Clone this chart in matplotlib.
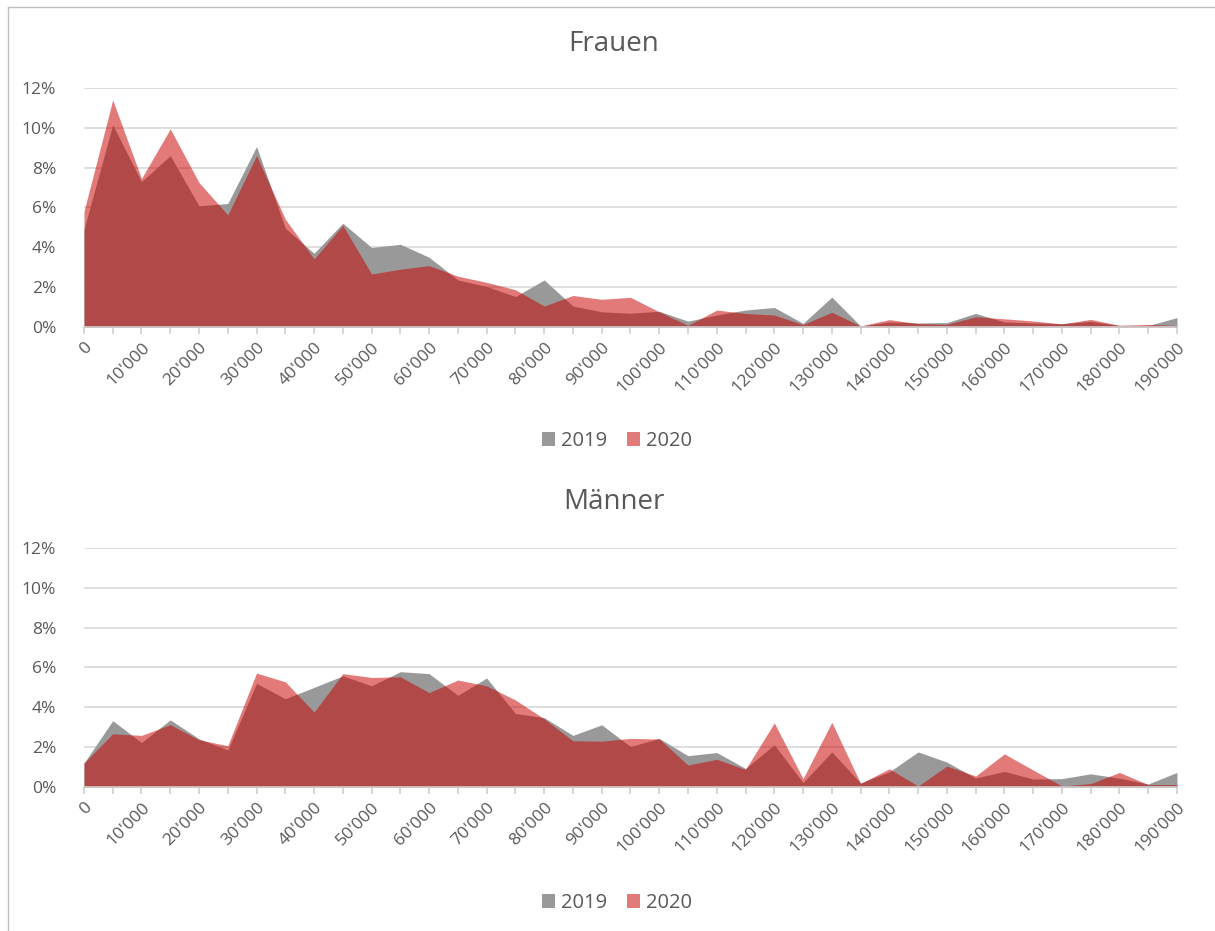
import matplotlib.pyplot as plt
import matplotlib.ticker as ticker
from matplotlib.patches import Patch

# Einkommensklassen (CHF), Schritt 5'000
einkommen = list(range(0, 195000, 5000))

# Anteile in % - Frauen
frauen_2019 = [4.9, 10.15, 7.3, 8.6, 6.08, 6.2, 9.06, 4.96, 3.7, 5.21,
               3.99, 4.15, 3.5, 2.36, 2.03, 1.53, 2.36, 1.05, 0.76, 0.69,
               0.79, 0.29, 0.6, 0.85, 0.98, 0.18, 1.5, 0.05, 0.25, 0.2,
               0.22, 0.68, 0.25, 0.2, 0.17, 0.28, 0.08, 0.07, 0.47]
frauen_2020 = [5.8, 11.4, 7.45, 9.95, 7.25, 5.63, 8.6, 5.41, 3.42, 5.1,
               2.66, 2.9, 3.08, 2.55, 2.24, 1.87, 1.05, 1.58, 1.39, 1.49,
               0.76, 0.08, 0.85, 0.68, 0.6, 0.12, 0.74, 0.05, 0.37, 0.17,
               0.13, 0.51, 0.41, 0.3, 0.15, 0.38, 0.08, 0.13, 0.07]

# Anteile in % - Männer
maenner_2019 = [1.2, 3.33, 2.23, 3.37, 2.42, 1.86, 5.2, 4.43, 5.0, 5.58,
                5.08, 5.79, 5.69, 4.6, 5.47, 3.69, 3.48, 2.59, 3.12, 2.03,
                2.44, 1.57, 1.73, 0.93, 2.12, 0.22, 1.76, 0.2, 0.76, 1.76,
                1.25, 0.45, 0.78, 0.4, 0.42, 0.66, 0.44, 0.15, 0.73]
maenner_2020 = [1.2, 2.67, 2.59, 3.13, 2.37, 2.07, 5.72, 5.28, 3.76, 5.69,
                5.5, 5.53, 4.74, 5.37, 5.08, 4.37, 3.42, 2.32, 2.3, 2.44,
                2.41, 1.1, 1.39, 0.88, 3.22, 0.42, 3.25, 0.18, 0.91, 0.05,
                1.05, 0.55, 1.66, 0.85, 0.05, 0.17, 0.73, 0.12, 0.12]

grau = '#999999'
rot = '#c80000'
rot_alpha = 0.52
text_col = '#595959'

plt.rcParams['font.family'] = ['Open Sans', 'DejaVu Sans']

fig = plt.figure(figsize=(12.15, 9.31), dpi=100)

panels = [
    ('Frauen', frauen_2019, frauen_2020, [0.0691, 0.6488, 0.8996, 0.2567], 0.953, 0.526),
    ('Männer', maenner_2019, maenner_2020, [0.0691, 0.1547, 0.8996, 0.2567], 0.461, 0.030),
]

for titel, s19, s20, pos, title_y, leg_y in panels:
    ax = fig.add_axes(pos)
    ax.fill_between(einkommen, 0, s19, color=grau, linewidth=0, zorder=2)
    ax.fill_between(einkommen, 0, s20, color=rot, alpha=rot_alpha, linewidth=0, zorder=3)

    ax.set_xlim(0, 190000)
    ax.set_ylim(0, 12)
    ax.set_yticks(range(0, 13, 2))
    ax.yaxis.set_major_formatter(ticker.FuncFormatter(lambda v, _: f'{v:.0f}%'))
    ax.set_xticks(einkommen, minor=True)
    ax.set_xticks(einkommen[::2])
    ax.xaxis.set_major_formatter(ticker.FuncFormatter(
        lambda v, _: f'{int(v):,}'.replace(',', "'")))
    for lab in ax.get_xticklabels():
        lab.set_rotation(45)
        lab.set_ha('right')
        lab.set_rotation_mode('anchor')

    ax.grid(axis='y', color='#d9d9d9', linewidth=1.2, zorder=0)
    ax.set_axisbelow(True)
    for side in ['top', 'right', 'left']:
        ax.spines[side].set_visible(False)
    ax.spines['bottom'].set_color('#d0d0d0')
    ax.spines['bottom'].set_linewidth(1.2)
    ax.spines['bottom'].set_zorder(4)
    ax.tick_params(axis='y', length=0, labelsize=12.5, labelcolor=text_col, pad=20)
    ax.tick_params(axis='x', which='both', length=5, color='#d0d0d0', width=1.2,
                   labelsize=12.5, labelcolor=text_col, pad=4)

    fig.text(0.505, title_y, titel, ha='center', va='center', fontsize=20, color=text_col)

    handles = [Patch(facecolor=grau, label='2019'),
               Patch(facecolor=rot, alpha=rot_alpha, label='2020')]
    fig.legend(handles=handles, loc='center', bbox_to_anchor=(0.508, leg_y), ncol=2,
               frameon=False, fontsize=14.5, labelcolor=text_col, handlelength=0.65,
               handleheight=0.65, handletextpad=0.3, columnspacing=1.0)

# dünner Rahmen links und oben
fig.add_artist(plt.Line2D([0.0066, 0.0066], [0, 0.9925], color='#bfbfbf', linewidth=1))
fig.add_artist(plt.Line2D([0.0066, 1.0], [0.9925, 0.9925], color='#bfbfbf', linewidth=1))

fig.savefig('out.png', dpi=100, facecolor='white')
